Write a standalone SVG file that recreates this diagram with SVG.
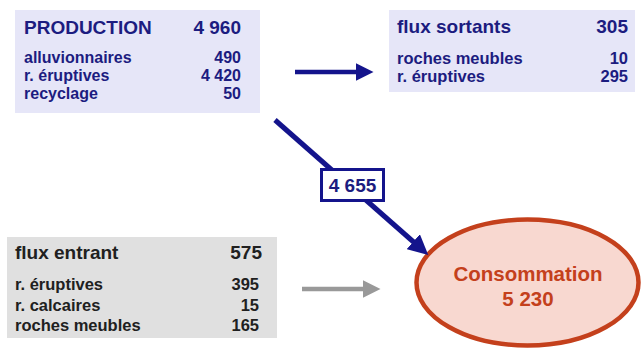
<svg xmlns="http://www.w3.org/2000/svg" width="642" height="351" viewBox="0 0 642 351">
<defs>
<style>
text{font-family:"Liberation Sans",Arial,sans-serif;font-weight:bold}
.blue{fill:#1c1c80}
.gray{fill:#202020}
.r{text-anchor:end}
.h{font-size:19px}
.s{font-size:16.5px}
.p{font-size:16px}
.box-b{fill:#e6e6f8}
.box-g{fill:#e0e0e0}
</style>
<marker id="ab" markerWidth="4" markerHeight="4" refX="1" refY="2" orient="auto" markerUnits="strokeWidth" viewBox="0 0 4 4"><path d="M0,0 L4,2 L0,4 Z" fill="#14148c"/></marker>
<marker id="ag" markerWidth="4" markerHeight="4" refX="1" refY="2" orient="auto" markerUnits="strokeWidth" viewBox="0 0 4 4"><path d="M0,0 L4,2 L0,4 Z" fill="#999999"/></marker>
</defs>
<rect width="642" height="351" fill="#ffffff"/>
<g id="production">
<rect class="box-b" x="15" y="10" width="245" height="103"/>
<text class="blue h" x="24" y="34">PRODUCTION</text>
<text class="blue h r" x="241" y="34">4 960</text>
<text class="blue p" x="24" y="63">alluvionnaires</text>
<text class="blue p r" x="241" y="63">490</text>
<text class="blue p" x="24" y="81">r. éruptives</text>
<text class="blue p r" x="241" y="81">4 420</text>
<text class="blue p" x="24" y="99">recyclage</text>
<text class="blue p r" x="241" y="99">50</text>
</g>
<g id="flux-sortants">
<rect class="box-b" x="389" y="10" width="246" height="82"/>
<text class="blue h" x="397" y="33">flux sortants</text>
<text class="blue h r" x="628" y="33">305</text>
<text class="blue s" x="397" y="64">roches meubles</text>
<text class="blue s r" x="628" y="64">10</text>
<text class="blue s" x="397" y="82">r. éruptives</text>
<text class="blue s r" x="628" y="82">295</text>
</g>
<g id="flux-entrant">
<rect class="box-g" x="7" y="237" width="270" height="101"/>
<text class="gray h" x="15" y="259">flux entrant</text>
<text class="gray h r" x="262" y="259">575</text>
<text class="gray s" x="15" y="290">r. éruptives</text>
<text class="gray s r" x="259" y="290">395</text>
<text class="gray s" x="15" y="311">r. calcaires</text>
<text class="gray s r" x="259" y="311">15</text>
<text class="gray s" x="15" y="331">roches meubles</text>
<text class="gray s r" x="259" y="331">165</text>
</g>
<g id="consommation">
<ellipse cx="527.5" cy="282.5" rx="111" ry="63" fill="#f8d8d0" stroke="#c4401c" stroke-width="4.5"/>
<text x="528" y="281" font-size="20.5" fill="#c4401c" text-anchor="middle">Consommation</text>
<text x="528" y="306" font-size="20.5" fill="#c4401c" text-anchor="middle">5 230</text>
</g>
<g id="connectors">
<line x1="295" y1="72" x2="360" y2="72" stroke="#14148c" stroke-width="4.5" marker-end="url(#ab)"/>
<line x1="275" y1="120" x2="417" y2="245" stroke="#14148c" stroke-width="5" marker-end="url(#ab)"/>
<line x1="302" y1="289" x2="367" y2="289" stroke="#999999" stroke-width="4.5" marker-end="url(#ag)"/>
<g id="label-4655">
<rect x="321.5" y="169.5" width="62" height="31" fill="#ffffff" stroke="#14148c" stroke-width="3"/>
<text class="blue h" x="352.5" y="192" text-anchor="middle">4 655</text>
</g>
</g>
</svg>
